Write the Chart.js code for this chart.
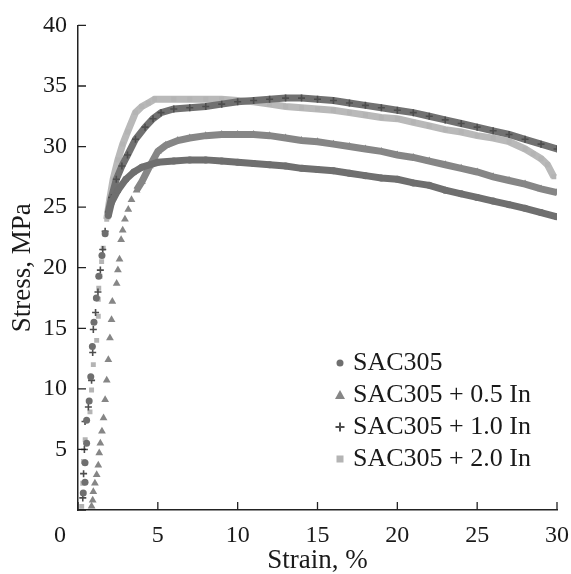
<!DOCTYPE html>
<html lang="en">
<head>
    <meta charset="UTF-8">
    <title>Stress-strain curves</title>
    <style>
        body {
            margin: 0;
            background-color: #fff;
        }

        .container {
            width: 571px;
            height: 574px;
        }
    </style>
    <script src="https://cdn.jsdelivr.net/npm/chart.js"></script>
</head>
<body>
    <div class="container">
        <canvas id="myChart"></canvas>
    </div>
    <script>
        // values (strain %, stress MPa)
        const seriesLabels = ['SAC305', 'SAC305 + 0.5 In', 'SAC305 + 1.0 In', 'SAC305 + 2.0 In'];
        const xTicks = [0, 5, 10, 15, 20, 25, 30];
        const yTicks = [0, 5, 10, 15, 20, 25, 30, 35, 40];

        const strain0 = [0.33, 0.44, 0.44, 0.54, 0.54, 0.7, 0.8, 0.9, 1.0, 1.15, 1.3, 1.5, 1.7, 1.9, 2.1, 2.5, 3.0, 3.5, 4.0, 5, 6, 7, 8, 9, 10, 11, 12, 13, 14, 15, 16, 17, 18, 19, 20, 21, 22, 23, 24, 25, 26, 27, 28, 29, 30];
        const stress0 = [1.4, 2.3, 3.9, 5.5, 7.4, 9.0, 11, 13.5, 15.5, 17.5, 19.3, 21, 22.8, 24.3, 25.4, 26.4, 27.3, 27.9, 28.3, 28.7, 28.8, 28.9, 28.9, 28.8, 28.7, 28.6, 28.5, 28.4, 28.2, 28.1, 28.0, 27.8, 27.6, 27.4, 27.3, 27.0, 26.8, 26.4, 26.1, 25.8, 25.5, 25.2, 24.9, 24.55, 24.2];

        const strain05 = [0.85, 0.92, 0.96, 1.06, 1.17, 1.27, 1.33, 1.4, 1.5, 1.6, 1.7, 1.8, 1.9, 2.0, 2.1, 2.15, 2.42, 2.5, 2.6, 2.7, 2.8, 2.94, 3.15, 3.35, 3.67, 4.0, 4.5, 5.0, 5.5, 6.25, 7, 8, 9, 10, 11, 12, 13, 14, 15, 16, 17, 18, 19, 20, 21, 22, 23, 24, 25, 26, 27, 28, 29, 30];
        const stress05 = [0.3, 0.8, 1.5, 2.2, 2.9, 3.7, 4.7, 5.5, 6.5, 7.6, 9.1, 10.7, 12.4, 14.2, 15.7, 17.2, 18.7, 19.8, 20.7, 22.3, 23.1, 24.0, 24.8, 25.6, 26.4, 27.1, 28.4, 29.6, 30.1, 30.5, 30.7, 30.9, 31.0, 31.0, 31.0, 30.9, 30.7, 30.5, 30.4, 30.2, 30.0, 29.8, 29.6, 29.3, 29.1, 28.8, 28.5, 28.2, 27.9, 27.5, 27.2, 26.9, 26.5, 26.2];

        const strain10 = [0.3, 0.35, 0.4, 0.44, 0.65, 0.85, 0.92, 0.96, 1.1, 1.25, 1.4, 1.55, 1.7, 1.9, 2.1, 2.4, 2.75, 3.1, 3.6, 4.2, 4.7, 5.2, 6, 7, 8, 9, 10, 11, 12, 13, 14, 15, 16, 17, 18, 19, 20, 21, 22, 23, 24, 25, 26, 27, 28, 29, 30];
        const stress10 = [1.0, 3.0, 5.0, 7.3, 8.5, 10.7, 13, 14.9, 16.3, 18, 19.8, 21.5, 23, 24.6, 25.8, 27.3, 28.4, 29.3, 30.6, 31.6, 32.3, 32.8, 33.1, 33.2, 33.3, 33.5, 33.7, 33.8, 33.9, 34.0, 34.0, 33.9, 33.8, 33.6, 33.4, 33.2, 33.0, 32.8, 32.5, 32.2, 31.9, 31.6, 31.3, 31.0, 30.6, 30.2, 29.8];

        const strain20 = [0.23, 0.3, 0.35, 0.45, 0.75, 0.85, 0.96, 1.17, 1.27, 1.27, 1.3, 1.38, 1.48, 1.58, 1.69, 1.8, 1.98, 2.2, 2.5, 2.8, 3.1, 3.6, 4.0, 4.4, 4.8, 6, 7, 8, 9, 10, 11, 12, 13, 14, 15, 16, 17, 18, 19, 20, 21, 22, 23, 24, 25, 26, 27, 28, 28.5, 29, 29.4, 29.8];
        const stress20 = [0.3, 2.2, 4.0, 5.8, 8.1, 9.9, 12, 14, 16, 17.4, 18.3, 19.3, 20.5, 21.6, 22.9, 24, 25.6, 27.3, 28.9, 30.2, 31.2, 32.8, 33.3, 33.6, 33.9, 33.9, 33.9, 33.9, 33.9, 33.8, 33.7, 33.5, 33.3, 33.2, 33.1, 33.0, 32.8, 32.6, 32.4, 32.3, 32.0, 31.7, 31.4, 31.2, 30.9, 30.7, 30.4, 29.8, 29.4, 29.0, 28.5, 27.5];

        function pairs(xs, ys) {
            return xs.map((x, i) => ({ x: x, y: ys[i] }));
        }

        // before this strain the markers stand apart, after it they merge into a band
        function makeSeries(label, xs, ys, style, color, markColor, radius, bandFrom) {
            return {
                label: label,
                data: pairs(xs, ys),
                showLine: true,
                borderWidth: 7,
                borderColor: color,
                pointStyle: style,
                pointRadius: radius,
                pointBackgroundColor: markColor,
                pointBorderColor: markColor,
                pointBorderWidth: style === 'cross' ? 1.6 : 0,
                segment: {
                    borderColor: c => c.p0.parsed.x < bandFrom ? 'transparent' : color
                }
            };
        }

        const innerTicks = {
            id: 'innerTicks',
            afterDraw(chart) {
                const { ctx, chartArea, scales } = chart;
                ctx.save();
                ctx.strokeStyle = '#222';
                ctx.lineWidth = 1.3;
                ctx.beginPath();
                scales.x.ticks.forEach(t => {
                    const px = scales.x.getPixelForValue(t.value);
                    ctx.moveTo(px, chartArea.bottom);
                    ctx.lineTo(px, chartArea.bottom - 8);
                });
                scales.y.ticks.forEach(t => {
                    const py = scales.y.getPixelForValue(t.value);
                    ctx.moveTo(chartArea.left, py);
                    ctx.lineTo(chartArea.left + 8, py);
                });
                ctx.stroke();
                ctx.restore();
            }
        };

        function drawMarker(ctx, style, x, y, color) {
            ctx.fillStyle = color;
            ctx.strokeStyle = color;
            ctx.beginPath();
            if (style === 'circle') {
                ctx.arc(x, y, 3.5, 0, Math.PI * 2);
                ctx.fill();
            } else if (style === 'triangle') {
                ctx.moveTo(x, y - 5);
                ctx.lineTo(x + 5, y + 4);
                ctx.lineTo(x - 5, y + 4);
                ctx.closePath();
                ctx.fill();
            } else if (style === 'cross') {
                ctx.lineWidth = 2;
                ctx.moveTo(x - 4.5, y);
                ctx.lineTo(x + 4.5, y);
                ctx.moveTo(x, y - 4.5);
                ctx.lineTo(x, y + 4.5);
                ctx.stroke();
            } else {
                ctx.fillRect(x - 3.5, y - 3.5, 7, 7);
            }
        }

        const legendInside = {
            id: 'legendInside',
            afterDraw(chart) {
                const ctx = chart.ctx;
                ctx.save();
                ctx.font = '26px "Liberation Serif"';
                ctx.textBaseline = 'middle';
                chart.data.datasets.forEach((ds, i) => {
                    const y = 363 + i * 32;
                    drawMarker(ctx, ds.pointStyle, 340, y, ds.pointBackgroundColor);
                    ctx.fillStyle = '#1a1a1a';
                    ctx.fillText(ds.label, 353, y);
                });
                ctx.restore();
            }
        };

        const ctx = document.getElementById('myChart').getContext('2d');
        const myChart = new Chart(ctx, {
            type: 'scatter',
            data: {
                datasets: [
                    makeSeries(seriesLabels[0], strain0, stress0, 'circle', '#6f6f6f', '#6f6f6f', 3.5, 1.9),
                    makeSeries(seriesLabels[1], strain05, stress05, 'triangle', '#868686', '#868686', 4.5, 3.6),
                    makeSeries(seriesLabels[2], strain10, stress10, 'cross', '#717171', '#4d4d4d', 3.5, 1.9),
                    makeSeries(seriesLabels[3], strain20, stress20, 'rect', '#b9b9b9', '#b4b4b4', 3.5, 1.8)
                ]
            },
            options: {
                responsive: true,
                maintainAspectRatio: false,
                animation: false,
                layout: {
                    padding: { top: 14, right: 14, left: 0, bottom: 0 }
                },
                scales: {
                    x: {
                        type: 'linear',
                        min: 0,
                        max: 30,
                        afterBuildTicks: s => { s.ticks = xTicks.map(v => ({ value: v })); },
                        afterFit: s => {
                            s.height = 64;
                            s.paddingRight = 0;
                            s.paddingLeft = 0;
                        },
                        grid: { display: false, drawTicks: false },
                        border: { display: true, color: '#222', width: 1.5 },
                        ticks: {
                            padding: 11,
                            color: '#1a1a1a',
                            font: { family: 'Liberation Serif', size: 24 },
                            maxRotation: 0,
                            callback: v => v === 0 ? '0      ' : v
                        },
                        title: {
                            display: true,
                            text: 'Strain, %',
                            color: '#1a1a1a',
                            font: { family: 'Liberation Serif', size: 27, lineHeight: 1 },
                            padding: 0
                        }
                    },
                    y: {
                        type: 'linear',
                        min: 0,
                        max: 40,
                        afterBuildTicks: s => { s.ticks = yTicks.map(v => ({ value: v })); },
                        afterFit: s => { s.width = 78; },
                        grid: { display: false, drawTicks: false },
                        border: { display: true, color: '#222', width: 1.5 },
                        ticks: {
                            padding: 11,
                            color: '#1a1a1a',
                            font: { family: 'Liberation Serif', size: 24 },
                            callback: v => v === 0 ? '' : v
                        },
                        title: {
                            display: true,
                            text: 'Stress, MPa',
                            color: '#1a1a1a',
                            font: { family: 'Liberation Serif', size: 27, lineHeight: 1 },
                            padding: { top: 9, bottom: 0 }
                        }
                    }
                },
                plugins: {
                    legend: { display: false },
                    tooltip: { enabled: false }
                }
            },
            plugins: [innerTicks, legendInside]
        });
    </script>
</body>
</html>
